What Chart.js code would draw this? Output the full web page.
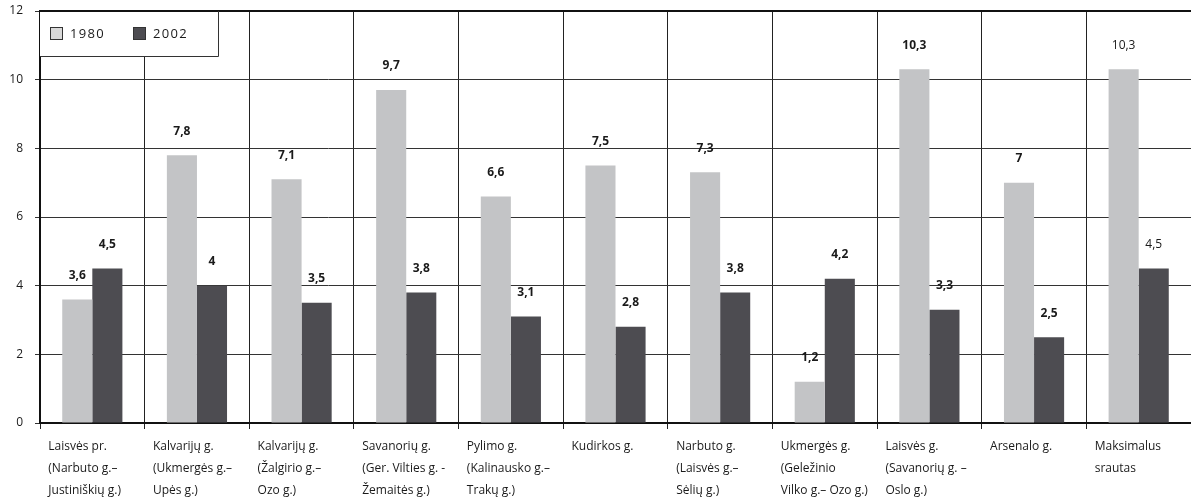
<!DOCTYPE html>
<html>
<head>
<meta charset="utf-8">
<script src="https://cdn.jsdelivr.net/npm/chart.js@4/dist/chart.umd.min.js"></script>
<style>
  html, body { margin: 0; padding: 0; background: #fff; }
  #wrap { width: 1191px; height: 502px; position: relative; }
</style>
</head>
<body>
<div id="wrap"><canvas id="flowChart"></canvas></div>
<script>
// gatvių pavadinimai (kategorijos)
const streets = [
    ['Laisvės pr.', '(Narbuto g.–', 'Justiniškių g.)'],
    ['Kalvarijų g.', '(Ukmergės g.–', 'Upės g.)'],
    ['Kalvarijų g.', '(Žalgirio g.–', 'Ozo g.)'],
    ['Savanorių g.', '(Ger. Vilties g. -', 'Žemaitės g.)'],
    ['Pylimo g.', '(Kalinausko g.–', 'Trakų g.)'],
    ['Kudirkos g.'],
    ['Narbuto g.', '(Laisvės g.–', 'Sėlių g.)'],
    ['Ukmergės g.', '(Geležinio', 'Vilko g.– Ozo g.)'],
    ['Laisvės g.', '(Savanorių g. –', 'Oslo g.)'],
    ['Arsenalo g.'],
    ['Maksimalus', 'srautas']
];
const flow1980 = [3.6, 7.8, 7.1, 9.7, 6.6, 7.5, 7.3, 1.2, 10.3, 7, 10.3];
const flow2002 = [4.5, 4, 3.5, 3.8, 3.1, 2.8, 3.8, 4.2, 3.3, 2.5, 4.5];
const yTicks = [0, 2, 4, 6, 8, 10, 12];

const FONT = '"Open Sans", "Noto Sans", sans-serif';

// reikšmės virš stulpelių
const valueLabels = {
    id: 'valueLabels',
    afterDatasetsDraw(chart) {
        const ctx = chart.ctx;
        ctx.save();
        ctx.fillStyle = '#1a1a1a';
        ctx.textAlign = 'center';
        ctx.textBaseline = 'middle';
        chart.data.datasets.forEach((ds, di) => {
            chart.getDatasetMeta(di).data.forEach((bar, i) => {
                const last = i === ds.data.length - 1;
                ctx.font = (last ? '' : 'bold ') + '12px ' + FONT;
                const txt = String(ds.data[i]).replace('.', ',');
                ctx.fillText(txt, bar.x, bar.y - 24);
            });
        });
        ctx.restore();
    }
};

// legenda ir viršutinis rėmas
const boxLegend = {
    id: 'boxLegend',
    afterDatasetsDraw(chart) {
        const ctx = chart.ctx;
        const a = chart.chartArea;
        ctx.save();
        ctx.strokeStyle = '#111';
        ctx.lineWidth = 2;
        ctx.beginPath();
        ctx.moveTo(a.left - 1, a.top);
        ctx.lineTo(a.right, a.top);
        ctx.stroke();

        ctx.fillStyle = '#fff';
        ctx.fillRect(a.left, a.top + 1, 178, 44);
        ctx.lineWidth = 1;
        ctx.strokeStyle = '#333';
        ctx.beginPath();
        ctx.moveTo(a.left, a.top + 45.5);
        ctx.lineTo(a.left + 178.5, a.top + 45.5);
        ctx.lineTo(a.left + 178.5, a.top);
        ctx.stroke();

        const swatch = ['#d9d9d9', '#4d4c51'];
        let x = a.left + 10;
        chart.data.datasets.forEach((ds, di) => {
            ctx.fillStyle = swatch[di];
            ctx.fillRect(x + 0.5, a.top + 16.5, 12, 12);
            ctx.strokeStyle = '#333';
            ctx.strokeRect(x + 0.5, a.top + 16.5, 12, 12);
            ctx.fillStyle = '#1a1a1a';
            ctx.font = '13px ' + FONT;
            ctx.textAlign = 'left';
            ctx.textBaseline = 'middle';
            ctx.fillText(ds.label.split('').join(String.fromCharCode(8202)), x + 20, a.top + 23);
            x += 83;
        });
        ctx.restore();
    }
};

new Chart(document.getElementById('flowChart'), {
    type: 'bar',
    data: {
        labels: streets,
        datasets: [
            { label: '1980', data: flow1980, backgroundColor: '#c3c4c6' },
            { label: '2002', data: flow2002, backgroundColor: '#4d4c51' }
        ]
    },
    options: {
        responsive: true,
        maintainAspectRatio: false,
        animation: false,
        layout: { padding: { top: 11, right: 0, left: 0, bottom: 0 } },
        datasets: { bar: { categoryPercentage: 0.575, barPercentage: 1.0 } },
        plugins: {
            legend: { display: false },
            tooltip: { enabled: false }
        },
        scales: {
            x: {
                afterFit(scale) {
                    scale.height = 79;
                    scale.paddingLeft = 0;
                    scale.paddingRight = 0;
                },
                grid: {
                    offset: true,
                    color: '#222',
                    lineWidth: 1,
                    tickLength: 6
                },
                border: { color: '#111', width: 2 },
                ticks: {
                    align: 'start',
                    labelOffset: -44,
                    padding: 6,
                    color: '#1a1a1a',
                    font: { family: FONT, size: 12, lineHeight: 1.85 },
                    maxRotation: 0,
                    autoSkip: false
                }
            },
            y: {
                min: 0,
                max: 12,
                afterFit(scale) {
                    scale.width = 40;
                    scale.paddingTop = 0;
                    scale.paddingBottom = 0;
                },
                afterBuildTicks(scale) { scale.ticks = yTicks.map(v => ({ value: v })); },
                grid: {
                    color: '#333',
                    lineWidth: 1,
                    tickLength: 5
                },
                border: { color: '#111', width: 2 },
                ticks: {
                    padding: 12,
                    color: '#1a1a1a',
                    font: { family: FONT, size: 12 }
                }
            }
        }
    },
    plugins: [valueLabels, boxLegend]
});
</script>
</body>
</html>
